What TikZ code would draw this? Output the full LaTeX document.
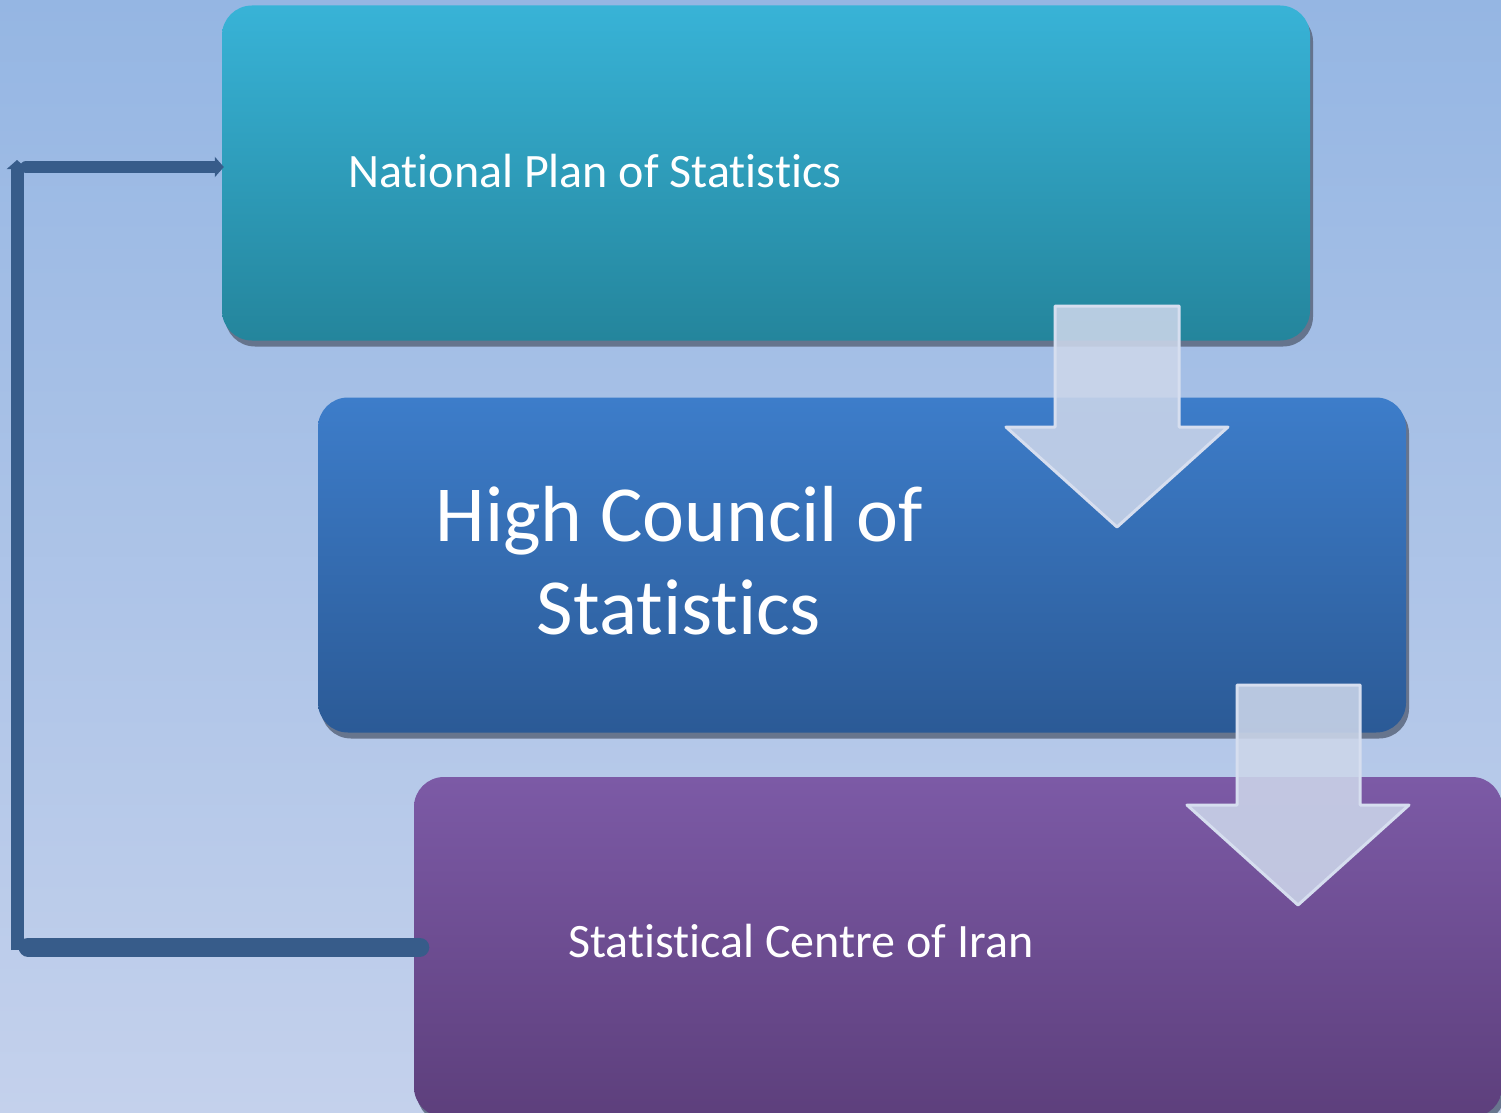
\documentclass[tikz,border=0pt]{standalone}
\usepackage{fontspec}
\setmainfont{Carlito}[Ligatures=NoCommon,RawFeature=-liga]
\usetikzlibrary{shadows,arrows.meta,positioning}

\definecolor{bgtop}{HTML}{95B6E3}
\definecolor{bgbottom}{HTML}{C4D1EC}
\definecolor{planTop}{HTML}{38B3D7}
\definecolor{planBottom}{HTML}{24859C}
\definecolor{councilTop}{HTML}{3D7DCA}
\definecolor{councilBottom}{HTML}{2B5A96}
\definecolor{centreTop}{HTML}{7C5AA6}
\definecolor{centreBottom}{HTML}{5D3F7C}
\definecolor{shadowgray}{HTML}{5F6C84}
\definecolor{loopblue}{HTML}{375C8A}
\definecolor{arrowfill}{HTML}{CCD6EA}
\definecolor{arrowedge}{HTML}{D6DEEF}

\begin{document}
\begin{tikzpicture}[x=1pt,y=-1pt]
\tikzset{
stage/.style={rectangle, rounded corners=30pt, minimum width=1088pt, minimum height=335pt,
inner sep=0pt, drop shadow={shadow xshift=3pt, shadow yshift=-6pt, fill=shadowgray, opacity=0.9}},
stagetext/.style={text=white, inner sep=0pt, font=\fontsize{48}{58}\selectfont},
bigtext/.style={text=white, inner sep=0pt, align=center, font=\fontsize{79.5}{93}\selectfont},
flowarrow/.style={fill=arrowfill, fill opacity=0.88, draw=arrowedge, line width=3pt, line join=round},
loopline/.style={draw=loopblue, line width=12pt},
looparrow/.style={loopline, -{Triangle[width=20pt,length=9pt]}, shorten >=-2pt},
}

% background
\fill[top color=bgtop, bottom color=bgbottom] (0,0) rectangle (1501,1113);
\clip (0,0) rectangle (1501,1113);

% stages
\node [stage, top color=planTop, bottom color=planBottom] (plan) at (766,173) {};
\node [stage, top color=councilTop, bottom color=councilBottom] (council) at (862,565) {};
\node [stage, minimum height=340pt, top color=centreTop, bottom color=centreBottom] (centre) at (958,947) {};

\node [stagetext, anchor=base west] (plantext) at (348,187) {National Plan of Statistics};
\node [bigtext] (counciltext) at (679,561) {High Council of\\Statistics};
\node [stagetext, anchor=base west] (centretext) at (568,957) {Statistical Centre of Iran};

% down arrows
\draw[flowarrow] (1055,306) -- (1179,306) -- (1179,427) -- (1228,427) -- (1117,527)
  -- (1006,427) -- (1055,427) -- cycle;
\draw[flowarrow] (1237,685) -- (1360,685) -- (1360,805) -- (1409,805) -- (1298,905)
  -- (1187,805) -- (1237,805) -- cycle;

% feedback loop
\coordinate (lowcorner) at (17,947);
\coordinate (highcorner) at (17,167);
\draw[loopline, line width=19pt, line cap=round] ([xshift=6pt]centre.west) -- ([xshift=11pt]lowcorner);
\draw[looparrow, line width=13pt] ([yshift=-3pt]lowcorner) -- ([yshift=5pt]highcorner);
\draw[looparrow, line cap=round] ([xshift=9pt]highcorner) -- ([yshift=6pt]plan.west);
\end{tikzpicture}
\end{document}
